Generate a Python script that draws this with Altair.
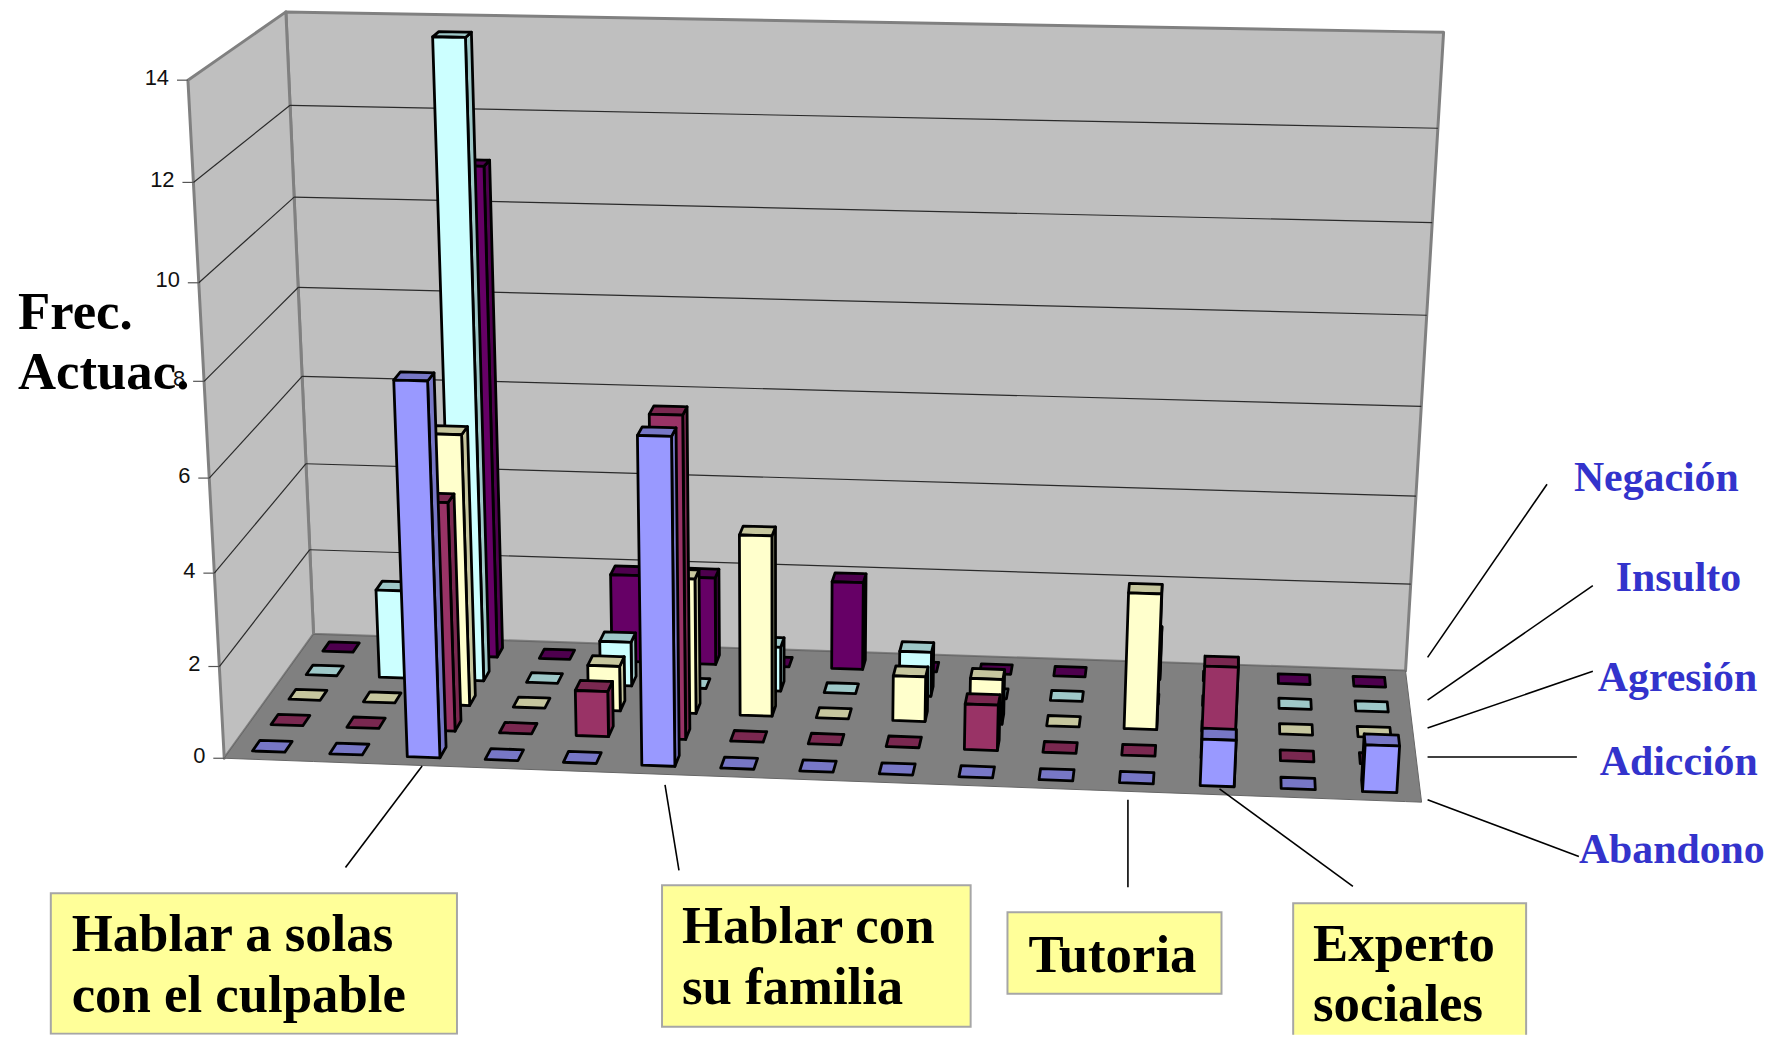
import altair as alt
import numpy as np
import pandas as pd

# ---------- values ----------
series = ["Abandono", "Adicción", "Agresión", "Insulto", "Negación"]
abandono = [0, 0, 8, 0, 0, 7, 0, 0, 0, 0, 0, 0, 1, 0, 1]
adiccion = [0, 0, 5, 0, 1, 7, 0, 0, 0, 1, 0, 0, 2, 0, 0]
agresion = [0, 0, 6, 0, 1, 3, 4, 0, 1, 1, 0, 3, 0, 0, 0]
insulto = [0, 2, 14, 0, 1, 0, 1, 0, 1, 0, 0, 0, 0, 0, 0]
negacion = [0, 0, 11, 0, 2, 2, 0, 2, 0, 0, 0, 1, 0, 0, 0]
values = [abandono, adiccion, agresion, insulto, negacion]
y_ticks = [0, 2, 4, 6, 8, 10, 12, 14]

# ---------- styles ----------
front_colors = ["#9999FF", "#993366", "#FFFFCC", "#CCFFFF", "#660066"]
shade_colors = ["#7777C6", "#7A2850", "#C6C69E", "#9EC8C8", "#4E004E"]
W, H = 1774, 1029
Z_MAX = 14.0
BAR_W, BAR_D = 0.42, 0.40

# ---------- perspective camera fitted to the box corners ----------
cube = [(0, 0, 0), (1, 0, 0), (0, 1, 0), (1, 1, 0), (0, 0, 1), (0, 1, 1), (1, 1, 1)]
seen = [(224, 758), (1429, 803), (316, 636), (1411, 672), (189, 80), (287, 8), (1450, 30)]
rows = []
for (a, b, c), (sx, sy) in zip(cube, seen):
    X = [a, b, c, 1]
    rows.append(X + [0, 0, 0, 0] + [-sx * q for q in X])
    rows.append([0, 0, 0, 0] + X + [-sy * q for q in X])
cam = np.linalg.svd(np.array(rows, float))[2][-1].reshape(3, 4)


def project(u, v, value):
    p = cam @ np.array([u, v, value / Z_MAX, 1.0])
    return float(p[0] / p[2]), float(p[1] / p[2])


def polygon(points, gid, fill):
    """A convex polygon as an area: upper and lower edge at every vertex x."""
    xs = sorted({round(p[0], 3) for p in points})
    out = []
    n = len(points)
    for x in xs:
        ys = []
        for i in range(n):
            (x0, y0), (x1, y1) = points[i], points[(i + 1) % n]
            lo, hi = min(x0, x1), max(x0, x1)
            if lo - 0.002 <= x <= hi + 0.002:
                if abs(x1 - x0) < 1e-6:
                    ys += [y0, y1]
                else:
                    t = min(1, max(0, (x - x0) / (x1 - x0)))
                    ys.append(y0 + t * (y1 - y0))
        out.append(dict(gid=gid, x=x, y=min(ys), y2=max(ys), fill=fill))
    return out


# ---------- box ----------
box_rows = polygon([project(0, 1, 0), project(1, 1, 0), project(1, 1, Z_MAX), project(0, 1, Z_MAX)], "a_back", "#BFBFBF")
box_rows += polygon([project(0, 0, 0), project(0, 1, 0), project(0, 1, Z_MAX), project(0, 0, Z_MAX)], "b_left", "#BFBFBF")
floor_rows = polygon([project(0, 0, 0), project(1, 0, 0), project(1, 1, 0), project(0, 1, 0)], "floor", "#808080")

grid = []
for t in y_ticks[1:-1]:
    x0, y0 = project(0, 0, t)
    x1, y1 = project(0, 1, t)
    x2, y2 = project(1, 1, t)
    grid.append(dict(x=x0, y=y0, x2=x1, y2=y1))
    grid.append(dict(x=x1, y=y1, x2=x2, y2=y2))

ticks, tick_labels = [], []
for t in y_ticks:
    x0, y0 = project(0, 0, t)
    ticks.append(dict(x=x0 - 11, y=y0, x2=x0, y2=y0))
    tick_labels.append(dict(x=x0 - 19, y=y0 + 4.5, t=str(t)))

# ---------- bars, painted from the back row to the front ----------
bar_rows = []
n_cat = len(abandono)
for s in range(len(series) - 1, -1, -1):
    for c in range(n_cat):
        h = values[s][c]
        u0, u1 = (c + 0.5 - BAR_W / 2) / n_cat, (c + 0.5 + BAR_W / 2) / n_cat
        v0, v1 = (s + 0.5 - BAR_D / 2) / 5, (s + 0.5 + BAR_D / 2) / 5
        key = f"{s}_{c:02d}"
        if h > 0:
            if project(u0, v1, 0)[0] < project(u0, v0, 0)[0]:
                bar_rows += polygon([project(u0, v0, 0), project(u0, v1, 0), project(u0, v1, h), project(u0, v0, h)],
                                    key + "_l", shade_colors[s])
            if project(u1, v1, 0)[0] > project(u1, v0, 0)[0]:
                bar_rows += polygon([project(u1, v0, 0), project(u1, v1, 0), project(u1, v1, h), project(u1, v0, h)],
                                    key + "_r", shade_colors[s])
        bar_rows += polygon([project(u0, v0, h), project(u1, v0, h), project(u1, v1, h), project(u0, v1, h)],
                            key + "_t", shade_colors[s])
        if h > 0:
            bar_rows += polygon([project(u0, v0, 0), project(u1, v0, 0), project(u1, v0, h), project(u0, v0, h)],
                                key + "_f", front_colors[s])

# ---------- annotations ----------
leaders = [
    (424, 767, 347, 869), (668, 786, 682, 872), (1133, 801, 1133, 889), (1225, 790, 1359, 888),
    (1434, 658, 1554, 484), (1434, 701, 1600, 586), (1434, 729, 1600, 672), (1434, 758, 1584, 758),
    (1434, 801, 1586, 858),
]
series_text = [("Negación", 1581, 491), ("Insulto", 1623, 591), ("Agresión", 1605, 692),
               ("Adicción", 1607, 776), ("Abandono", 1586, 865)]
boxes = [(51, 895, 459, 1036), (665, 887, 975, 1029), (1012, 914, 1227, 996), (1299, 905, 1533, 1060)]
box_text = [("Hablar a solas", 72, 953), ("con el culpable", 72, 1014), ("Hablar con", 685, 945),
            ("su familia", 685, 1006), ("Tutoria", 1033, 974), ("Experto", 1319, 963), ("sociales", 1319, 1023)]
axis_title = [("Frec.", 18, 328), ("Actuac.", 18, 388)]

sx = alt.Scale(domain=[8, 8 + W], range=[0, W], nice=False, zero=False)
sy = alt.Scale(domain=[8 + H, 8], range=[H, 0], nice=False, zero=False)
X = alt.X("x:Q", scale=sx, axis=None)
Y = alt.Y("y:Q", scale=sy, axis=None)
X2, Y2 = alt.X2("x2:Q"), alt.Y2("y2:Q")


def areas(rows, **kw):
    return alt.Chart(pd.DataFrame(rows)).mark_area(interpolate="linear", strokeJoin="round", **kw).encode(
        x=X, y=Y, y2=Y2, detail="gid:N", fill=alt.Fill("fill:N", scale=None, legend=None))


def segments(rows, **kw):
    return alt.Chart(pd.DataFrame(rows)).mark_rule(**kw).encode(x=X, y=Y, x2=X2, y2=Y2)


def texts(rows, **kw):
    df = pd.DataFrame(rows, columns=["t", "x", "y"])
    return alt.Chart(df).mark_text(baseline="alphabetic", **kw).encode(x=X, y=Y, text="t:N")


layers = [
    areas(box_rows, stroke="#808080", strokeWidth=3),
    segments(grid, color="#2a2a2a", strokeWidth=1.2),
    areas(floor_rows, stroke="#666666", strokeWidth=1),
    segments(ticks, color="#555555", strokeWidth=1.2),
    alt.Chart(pd.DataFrame(tick_labels)).mark_text(font="Liberation Sans", fontSize=22, align="right",
                                                   baseline="alphabetic", color="#111111").encode(x=X, y=Y, text="t:N"),
    areas(bar_rows, stroke="black", strokeWidth=2.8),
    segments([dict(x=a, y=b, x2=c, y2=d) for a, b, c, d in leaders], color="black", strokeWidth=1.6),
    alt.Chart(pd.DataFrame(boxes, columns=["x", "y", "x2", "y2"])).mark_rect(
        fill="#FFFF99", stroke="#A6A6A6", strokeWidth=2, clip=True).encode(x=X, y=Y, x2=X2, y2=Y2),
    texts(series_text, font="Liberation Serif", fontWeight="bold", fontSize=42, color="#3333CC", align="left"),
    texts(box_text, font="Liberation Serif", fontWeight="bold", fontSize=53, color="black", align="left"),
    texts(axis_title, font="Liberation Serif", fontWeight="bold", fontSize=53, color="black", align="left"),
]

chart = alt.layer(*layers).properties(
    width=W, height=H, padding=0, background="white",
    autosize=alt.AutoSizeParams(type="none"),
).configure_view(stroke=None)

chart.save("out.html", embed_options={"renderer": "svg", "actions": False})
